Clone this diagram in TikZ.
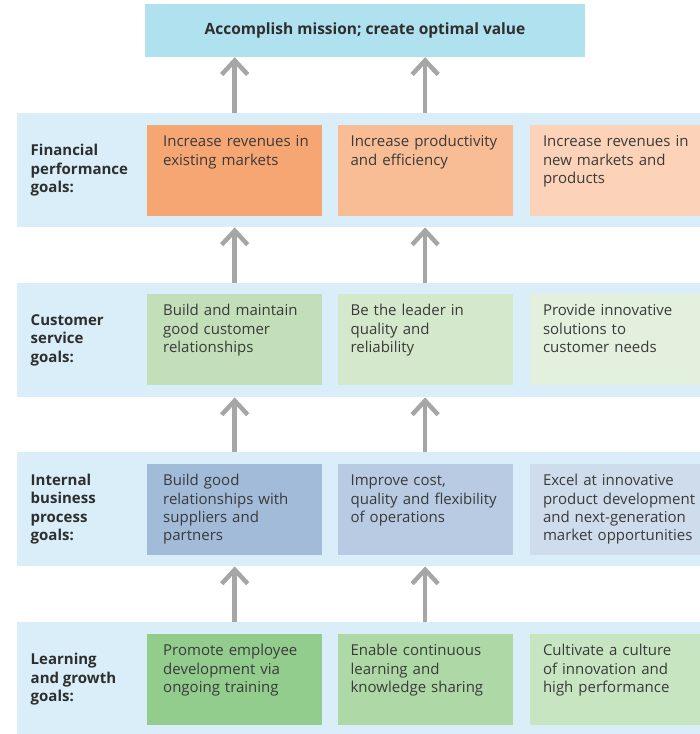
\documentclass[tikz,border=0pt]{standalone}
\usepackage{fontspec}
\setmainfont{Open Sans}
\usetikzlibrary{positioning,arrows.meta}

\definecolor{bandblue}{HTML}{D9EEF8}
\definecolor{topblue}{HTML}{AFE1EF}
\definecolor{arrowgray}{HTML}{A6A6A6}
\definecolor{goaltext}{HTML}{3A3A3A}
\definecolor{labeltext}{HTML}{2E2E2E}
\definecolor{fin1}{HTML}{F6A673}
\definecolor{fin2}{HTML}{F9BD96}
\definecolor{fin3}{HTML}{FCD3B8}
\definecolor{cus1}{HTML}{C3DFBA}
\definecolor{cus2}{HTML}{D4E8CC}
\definecolor{cus3}{HTML}{E2F0DD}
\definecolor{int1}{HTML}{A1BBD9}
\definecolor{int2}{HTML}{B8CBE3}
\definecolor{int3}{HTML}{CFDCEC}
\definecolor{lrn1}{HTML}{93CD8E}
\definecolor{lrn2}{HTML}{AED8A6}
\definecolor{lrn3}{HTML}{C8E5C2}

\begin{document}
\begin{tikzpicture}[
    x=1pt, y=-1pt,
    band/.style={fill=bandblue, anchor=north west, minimum width=683pt,
      minimum height=114pt, inner sep=0pt},
    goal/.style={anchor=north west, minimum width=175pt, minimum height=91pt,
      text width=175pt, inner xsep=0pt, inner ysep=5pt, text height=16.7pt,
      text depth=64.3pt, align=left, text=goaltext,
      font=\fontsize{15}{18.3}\selectfont,
      execute at begin node={\leftskip=#1}},
    goal/.default=16pt,
    rowlabel/.style={inner sep=0pt, align=left, text=labeltext,
      font=\bfseries\fontsize{15}{18.3}\selectfont},
    up/.style={draw=arrowgray, line width=4.5pt,
      -{Straight Barb[length=14pt,width=26pt]}},
]
  \useasboundingbox (0,0) rectangle (700,734);

  % 顶部目标
  \node[fill=topblue, minimum width=440pt, minimum height=53pt, text=labeltext,
    font=\bfseries\fontsize{15.5}{18.3}\selectfont] (mission) at (365,30.5)
    {Accomplish mission; create optimal value};

  % 四个横条
  \node[band] (finband) at (17,113) {};
  \node[band] (cusband) at (17,283) {};
  \node[band] (intband) at (17,452) {};
  \node[band] (lrnband) at (17,622) {};

  \node[rowlabel, right=13.5pt of finband.west] (finlbl) {Financial\\performance\\goals:};
  \node[rowlabel, right=13.5pt of cusband.west] (cuslbl) {Customer\\service\\goals:};
  \node[rowlabel, right=13.5pt of intband.west] (intlbl) {Internal\\business\\process\\goals:};
  \node[rowlabel, right=13.5pt of lrnband.west] (lrnlbl) {Learning\\and growth\\goals:};

  % 财务目标
  \node[goal, fill=fin1] (f1) at (147,125) {Increase revenues in\\existing markets};
  \node[goal=13pt, fill=fin2, right=15pt of f1] (f2) {Increase productivity\\and efficiency};
  \node[goal=13pt, fill=fin3, right=17pt of f2] (f3) {Increase revenues in\\new markets and\\products};

  % 客户目标
  \node[goal, fill=cus1] (c1) at (147,294) {Build and maintain\\good customer\\relationships};
  \node[goal=13pt, fill=cus2, right=15pt of c1] (c2) {Be the leader in\\quality and\\reliability};
  \node[goal=13pt, fill=cus3, right=17pt of c2] (c3) {Provide innovative\\solutions to\\customer needs};

  % 内部流程目标
  \node[goal, fill=int1] (i1) at (147,464) {Build good\\relationships with\\suppliers and\\partners};
  \node[goal=13pt, fill=int2, right=15pt of i1] (i2) {Improve cost,\\quality and flexibility\\of operations};
  \node[goal=13pt, fill=int3, right=17pt of i2] (i3) {Excel at innovative\\product development\\and next-generation\\market opportunities};

  % 学习与成长目标
  \node[goal, fill=lrn1] (l1) at (147,634) {Promote employee\\development via\\ongoing training};
  \node[goal=13pt, fill=lrn2, right=15pt of l1] (l2) {Enable continuous\\learning and\\knowledge sharing};
  \node[goal=13pt, fill=lrn3, right=17pt of l2] (l3) {Cultivate a culture\\of innovation and\\high performance};

  % 箭头
  \draw[up] (f1 |- finband.north) -- (f1 |- mission.south);
  \draw[up] (f2 |- finband.north) -- (f2 |- mission.south);
  \draw[up] (c1 |- cusband.north) -- (c1 |- finband.south);
  \draw[up] (c2 |- cusband.north) -- (c2 |- finband.south);
  \draw[up] (i1 |- intband.north) -- (i1 |- cusband.south);
  \draw[up] (i2 |- intband.north) -- (i2 |- cusband.south);
  \draw[up] (l1 |- lrnband.north) -- (l1 |- intband.south);
  \draw[up] (l2 |- lrnband.north) -- (l2 |- intband.south);

\end{tikzpicture}
\end{document}
